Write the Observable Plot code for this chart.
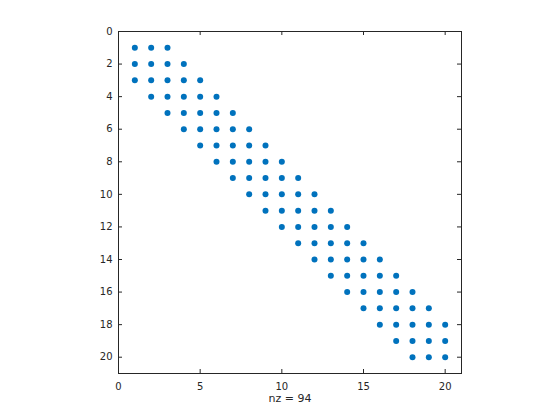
<!DOCTYPE html>
<html><head><meta charset="utf-8">
<script src="https://cdn.jsdelivr.net/npm/d3@7"></script>
<script src="https://cdn.jsdelivr.net/npm/@observablehq/plot@0.6"></script>
<style>body{margin:0;background:#fff;} svg{display:block;}</style>
</head><body><div id="chart"></div>
<script>
// non-zero column indices for each row (1..20) of the sparse matrix
const rowIndex = [1,2,3,4,5,6,7,8,9,10,11,12,13,14,15,16,17,18,19,20];
const rowCols = [
  [1,2,3],[1,2,3,4],[1,2,3,4,5],[2,3,4,5,6],[3,4,5,6,7],
  [4,5,6,7,8],[5,6,7,8,9],[6,7,8,9,10],[7,8,9,10,11],[8,9,10,11,12],
  [9,10,11,12,13],[10,11,12,13,14],[11,12,13,14,15],[12,13,14,15,16],[13,14,15,16,17],
  [14,15,16,17,18],[15,16,17,18,19],[16,17,18,19,20],[17,18,19,20],[18,19,20]
];
const xTicks = [0,5,10,15,20];
const yTicks = [0,2,4,6,8,10,12,14,16,18,20];
const xLabel = "nz = 94";

const points = [];
rowIndex.forEach((r, i) => rowCols[i].forEach(c => points.push({row: r, col: c})));

const W = 560, H = 420, mL = 118, mR = 99, mT = 31, mB = 47;
const fw = W - mL - mR, fh = H - mT - mB, tl = 4;
const ink = "#262626";
const chart = Plot.plot({
  width: W, height: H,
  marginLeft: mL, marginRight: mR, marginTop: mT, marginBottom: mB,
  style: {fontFamily: "DejaVu Sans, sans-serif", fontSize: "10px", color: ink, background: "#fff"},
  x: {domain: [0, 21], axis: null},
  y: {domain: [0, 21], reverse: true, axis: null},
  marks: [
    Plot.frame({stroke: ink, strokeWidth: 1}),
    Plot.axisX(xTicks, {anchor: "bottom", tickSize: 0, tickPadding: 9, label: null, fill: ink}),
    Plot.axisY(yTicks, {anchor: "left", tickSize: 0, tickPadding: 6, label: null, fill: ink}),
    Plot.tickX(xTicks, {x: d => d, insetTop: fh - tl, stroke: ink}),
    Plot.tickX(xTicks, {x: d => d, insetBottom: fh - tl, stroke: ink}),
    Plot.tickY(yTicks, {y: d => d, insetRight: fw - tl, stroke: ink}),
    Plot.tickY(yTicks, {y: d => d, insetLeft: fw - tl, stroke: ink}),
    Plot.dot(points, {x: "col", y: "row", r: 3, fill: "#0072BD", stroke: null}),
    Plot.text([xLabel], {text: d => d, frameAnchor: "bottom", dy: 28, fill: ink, fontSize: 11})
  ]
});
document.getElementById("chart").append(chart);
</script></body></html>
